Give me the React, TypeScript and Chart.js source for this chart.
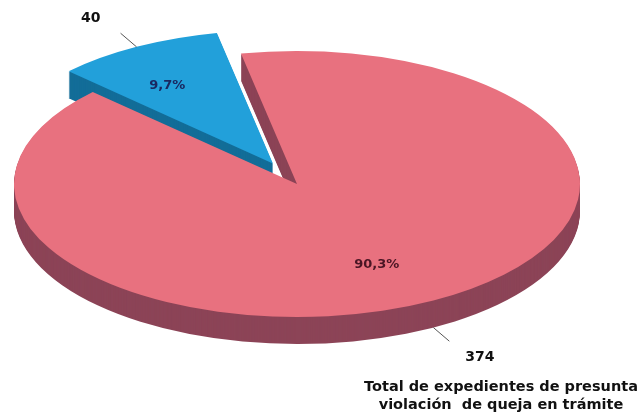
import { useEffect, useRef } from "react";
import { Chart, registerables } from "chart.js";

Chart.register(...registerables);

// ---- data ----
const categories = ["Otros expedientes", "Expedientes en trámite"];
const values = [40, 374];
const captionLines = ["Total de expedientes de presunta", "violación  de queja en trámite"];

// ---- style ----
const topColors = ["#22a0da", "#e8717f"];
const sideColors = ["#136d98", "#8c4457"];
const pctColors = ["#1a2860", "#4a1524"];
const EXPLODE = [50, 0];
const TILT = 0.47;
const DEPTH = 27;
const RADIUS = 283;
const PCT_SHIFT = { x: -13, y: 1 };

const total = values.reduce((a, b) => a + b, 0);
const pctText = (v: number) => ((v / total) * 100).toFixed(1).replace(".", ",") + "%";

function geom(arc: any, i: number) {
  const p = arc.getProps(["x", "y", "startAngle", "endAngle", "outerRadius"], true);
  const mid = (p.startAngle + p.endAngle) / 2;
  const ex = Math.cos(mid) * EXPLODE[i];
  const ey = Math.sin(mid) * EXPLODE[i];
  return { ...p, mid, ex, ey };
}

function screenPt(g: any, angle: number, r: number) {
  return {
    x: g.x + g.ex + Math.cos(angle) * r,
    y: g.y + (g.ey + Math.sin(angle) * r) * TILT,
  };
}

const pie3d = {
  id: "pie3d",
  beforeDatasetsDraw(chart: any) {
    const ctx = chart.ctx as CanvasRenderingContext2D;
    const meta = chart.getDatasetMeta(0);
    meta.data.forEach((arc: any, i: number) => {
      const g = geom(arc, i);
      // extruded side
      for (let d = DEPTH; d >= 1; d--) {
        ctx.save();
        ctx.translate(0, d);
        ctx.translate(g.x, g.y);
        ctx.scale(1, TILT);
        ctx.translate(-g.x, -g.y);
        ctx.beginPath();
        ctx.moveTo(g.x + g.ex, g.y + g.ey);
        ctx.arc(g.x + g.ex, g.y + g.ey, g.outerRadius, g.startAngle, g.endAngle);
        ctx.closePath();
        ctx.fillStyle = sideColors[i];
        ctx.fill();
        ctx.restore();
      }
      // top face drawn by the library's arc element
      ctx.save();
      ctx.translate(g.x, g.y);
      ctx.scale(1, TILT);
      ctx.translate(-g.x, -g.y);
      ctx.translate(g.ex, g.ey);
      arc.draw(ctx, chart.chartArea);
      ctx.restore();
    });
    return false;
  },
  afterDraw(chart: any) {
    const ctx = chart.ctx as CanvasRenderingContext2D;
    const meta = chart.getDatasetMeta(0);
    ctx.save();
    meta.data.forEach((arc: any, i: number) => {
      const g = geom(arc, i);
      // percent label
      const pc = screenPt(g, g.mid, g.outerRadius * 0.68);
      ctx.font = "bold 13px 'DejaVu Sans'";
      ctx.fillStyle = pctColors[i];
      ctx.textAlign = "center";
      ctx.textBaseline = "middle";
      ctx.fillText(pctText(values[i]), pc.x + PCT_SHIFT.x, pc.y + PCT_SHIFT.y);
      // leader line + value
      const s = screenPt(g, g.mid, g.outerRadius);
      const sinM = Math.sin(g.mid);
      const cosM = Math.cos(g.mid);
      if (sinM > 0) s.y += DEPTH;
      let dx = cosM, dy = sinM * TILT;
      const len = Math.hypot(dx, dy);
      dx /= len; dy /= len;
      const e = { x: s.x + dx * 21, y: s.y + dy * 21 };
      ctx.strokeStyle = "#555";
      ctx.lineWidth = 1;
      ctx.beginPath();
      ctx.moveTo(s.x, s.y);
      ctx.lineTo(e.x, e.y);
      ctx.stroke();
      ctx.font = "bold 14px 'DejaVu Sans'";
      ctx.fillStyle = "#111";
      ctx.textAlign = cosM < 0 ? "right" : "left";
      const lx = e.x + (cosM < 0 ? -20 : 16);
      const ly = e.y + (sinM < 0 ? -15 : 16);
      ctx.fillText(String(values[i]), lx, ly);
    });
    // caption
    ctx.font = "bold 14.5px 'DejaVu Sans'";
    ctx.fillStyle = "#111";
    ctx.textAlign = "center";
    ctx.textBaseline = "middle";
    captionLines.forEach((line, k) => ctx.fillText(line, 501, 387 + k * 18));
    ctx.restore();
  },
};

export default function App() {
  const ref = useRef<HTMLCanvasElement | null>(null);
  useEffect(() => {
    if (!ref.current) return;
    const chart = new Chart(ref.current, {
      type: "pie",
      data: {
        labels: categories,
        datasets: [
          {
            data: values,
            backgroundColor: topColors,
            borderWidth: 0,
            radius: RADIUS,
            rotation: -46.2,
          } as any,
        ],
      },
      options: {
        animation: false,
        responsive: true,
        maintainAspectRatio: false,
        layout: { padding: { left: 0, right: 46, top: 0, bottom: 48 } },
        plugins: { legend: { display: false }, tooltip: { enabled: false } },
      },
      plugins: [pie3d],
    });
    return () => chart.destroy();
  }, []);
  return (
    <div style={{ position: "absolute", left: 0, top: 0, width: 640, height: 416, background: "#fff" }}>
      <canvas ref={ref} />
    </div>
  );
}
